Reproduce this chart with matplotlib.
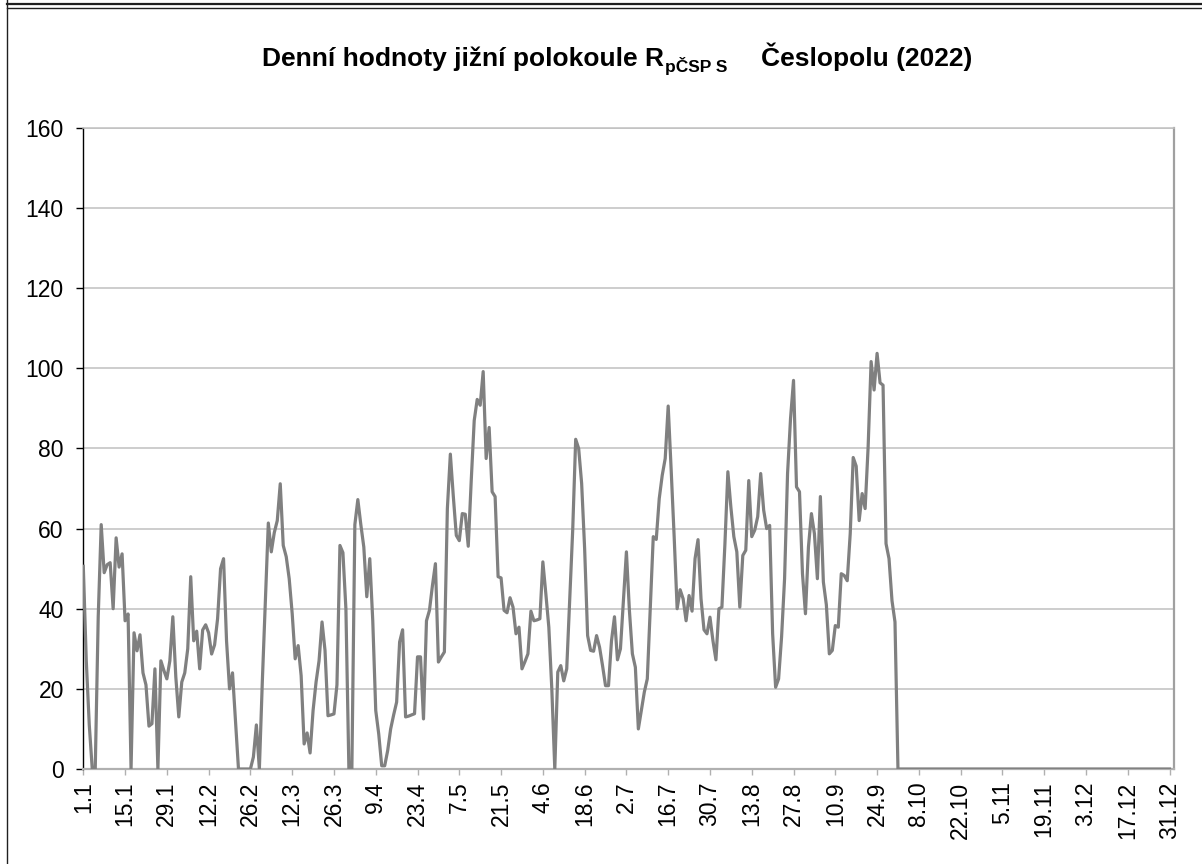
import matplotlib
matplotlib.use("Agg")
import matplotlib.pyplot as plt
from matplotlib.lines import Line2D

plt.rcParams['font.family'] = ['Liberation Sans', 'DejaVu Sans']

# Daily values (day index 0 = 1.1.2022)
values_jan_feb = [50.6, 27, 11, 0, 0, 38, 61, 49, 51, 51.5, 40, 57.7, 50.4, 53.7, 37, 38.7,
                  0, 34, 29.5, 33.5, 24, 21, 10.7, 11.3, 25, 0, 27, 24.6, 22.5, 27, 38,
                  23, 13, 21.7, 24, 30, 48, 32, 34.4, 25, 34.7, 36, 34, 28.7, 31, 37.5,
                  50, 52.5, 32, 20, 24, 12, 0, 0, 0, 0, 0, 3, 11]
values_mar_apr = [0, 22, 42, 61.4, 54.2, 59, 62, 71.2, 55.8, 53, 47.5, 38.8, 27.5, 30.8,
                  23.3, 6.25, 9, 4, 14.6, 21.7, 27, 36.7, 29.6, 13.3, 13.5, 13.75, 21,
                  55.8, 54, 40, 0, 0, 61, 67.25, 61, 55.4, 43, 52.5, 37, 14.6, 8.75, 0.8,
                  0.8, 4.6, 10, 13.5, 16.7, 31.7, 34.75, 13, 13.2, 13.5, 13.8, 28, 28,
                  12.5, 37, 39.6, 45.8, 51.25, 26.7]
values_may_jun = [28, 29.2, 65, 78.6, 68, 58.3, 57, 63.75, 63.6, 55.6, 72, 87, 92.25, 90.8,
                  99.2, 77.5, 85.25, 69.2, 68, 48, 47.7, 39.6, 39, 42.75, 40.4, 33.75,
                  35.4, 25, 26.8, 28.75, 39.4, 37, 37.2, 37.5, 51.7, 43.75, 35.4, 20, 0,
                  24.2, 25.8, 22, 25, 42, 59.6, 82.3, 80, 71.25, 55, 33.3, 29.6, 29.4,
                  33.3, 30.4, 25.8, 20.8, 20.8, 32, 38, 27.25, 30]
values_jul_aug = [42, 54.2, 39.6, 28.75, 25.4, 10, 14.6, 19.2, 22.5, 40.4, 58, 57.3, 67.5,
                  73.3, 77.5, 90.6, 74.6, 58, 40, 44.75, 42.5, 37, 43.3, 39.4, 52.5,
                  57.25, 42.5, 34.75, 33.75, 37.9, 32, 27.25, 40, 40.4, 56, 74.2, 65.4,
                  58, 54.2, 40.4, 53.3, 54.6, 72, 58, 59.6, 63, 73.75, 64.6, 60, 60.8,
                  33.75, 20.4, 22.5, 33, 47.5, 73.75, 87.5, 97, 70.4, 69.2, 48.75, 38.75]
values_sep_dec = [55.4, 63.75, 58.75, 47.5, 68, 46.7, 41, 28.75, 29.6, 35.8, 35.4, 48.75,
                  48.3, 47, 58.75, 77.75, 75.6, 62, 68.75, 65, 80.4, 101.7, 94.6, 103.75,
                  96.4, 95.8, 56.25, 52.5, 42, 36.7] + [0] * 92

values = values_jan_feb + values_mar_apr + values_may_jun + values_jul_aug + values_sep_dec
days = list(range(len(values)))

tick_labels = ["1.1", "15.1", "29.1", "12.2", "26.2", "12.3", "26.3", "9.4", "23.4",
               "7.5", "21.5", "4.6", "18.6", "2.7", "16.7", "30.7", "13.8", "27.8",
               "10.9", "24.9", "8.10", "22.10", "5.11", "19.11", "3.12", "17.12", "31.12"]
tick_pos = [14 * i for i in range(len(tick_labels))]
y_ticks = [0, 20, 40, 60, 80, 100, 120, 140, 160]

title_main = "Denní hodnoty jižní polokoule R"
title_sub = "pČSP S"
title_end = "Česlopolu (2022)"

W, H = 1202, 864
fig = plt.figure(figsize=(W / 100, H / 100), dpi=100)
ax = fig.add_axes([83.3 / W, 1 - 769 / H, (1174 - 83.3) / W, (769 - 128) / H])

ax.plot(days, values, color='#808080', lw=2.3, solid_joinstyle='round', zorder=3)

ax.set_xlim(0, 365.5)
ax.set_ylim(0, 160)
ax.set_yticks(y_ticks)
ax.set_yticklabels([str(v) for v in y_ticks], fontsize=16.5)
ax.set_xticks(tick_pos)
ax.set_xticklabels(tick_labels, rotation=90, fontsize=16.5, va='top', ha='center')

ax.grid(axis='y', color='#c0c0c0', lw=1.1, zorder=0)
ax.set_axisbelow(True)

ax.spines['left'].set_color('black')
ax.spines['left'].set_linewidth(1.0)
ax.spines['bottom'].set_color('#b0b0b0')
ax.spines['bottom'].set_linewidth(1.6)
ax.spines['right'].set_color('#a0a0a0')
ax.spines['right'].set_linewidth(1.6)
ax.spines['top'].set_color('#c0c0c0')
ax.spines['top'].set_linewidth(1.1)

ax.tick_params(axis='y', direction='out', length=5, width=1.0, color='black', pad=9)
ax.tick_params(axis='x', direction='out', length=4, width=1.0, color='#b0b0b0', pad=5)

# Title made of pieces (subscript part), laid out left to right in pixels
renderer = fig.canvas.get_renderer()
x0 = 262.0
base = 66.0
t1 = fig.text(x0 / W, 1 - base / H, title_main, ha='left', va='baseline',
              fontsize=19, fontweight='bold')
w1 = t1.get_window_extent(renderer).width
x1 = x0 + w1 + 1
t2 = fig.text(x1 / W, 1 - (base + 6) / H, title_sub, ha='left', va='baseline',
              fontsize=12.5, fontweight='bold')
w2 = t2.get_window_extent(renderer).width
x2 = x1 + w2 + 34
fig.text(x2 / W, 1 - base / H, title_end, ha='left', va='baseline',
         fontsize=19, fontweight='bold')

# Outer frame lines
fig.add_artist(Line2D([7.3 / W, 1], [1 - 3.8 / H, 1 - 3.8 / H], transform=fig.transFigure,
                      color='#202020', lw=1.6))
fig.add_artist(Line2D([7.3 / W, 1], [1 - 8.4 / H, 1 - 8.4 / H], transform=fig.transFigure,
                      color='#202020', lw=1.0))
fig.add_artist(Line2D([7.3 / W, 7.3 / W], [0, 1], transform=fig.transFigure,
                      color='#202020', lw=1.0))

fig.savefig("out.png", dpi=100)
